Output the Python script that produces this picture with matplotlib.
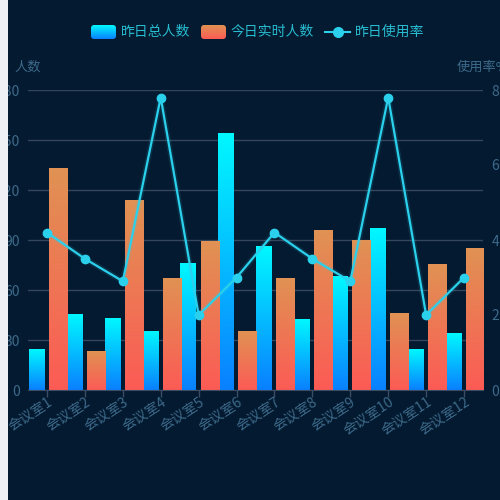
import numpy as np
import matplotlib.pyplot as plt
from matplotlib.patches import Rectangle, FancyBboxPatch
from matplotlib.lines import Line2D
from matplotlib.colors import LinearSegmentedColormap

plt.rcParams['font.family'] = ['Noto Sans CJK SC', 'DejaVu Sans']

rooms = ["会议室1", "会议室2", "会议室3", "会议室4", "会议室5", "会议室6",
         "会议室7", "会议室8", "会议室9", "会议室10", "会议室11", "会议室12"]
yesterday_total = [24, 45, 43, 35, 76, 154, 86, 42, 68, 97, 24, 34]
today_live = [133, 23, 114, 67, 89, 35, 67, 96, 90, 46, 75, 85]
usage_rate = [4.2, 3.5, 2.9, 7.8, 2.0, 3.0, 4.2, 3.5, 2.9, 7.8, 2.0, 3.0]

left_ticks = [0, 30, 60, 90, 120, 150, 180]
right_ticks = [0, 2, 4, 6, 8]

BG = '#041a30'
AXIS_TXT = '#3d6a8a'
GRID = '#34465c'
LEGEND_TXT = '#27bcd0'
LINE_C = '#2ad0ec'

blue_cmap = LinearSegmentedColormap.from_list('b', ['#0a80ff', '#00f8ff'])
orange_cmap = LinearSegmentedColormap.from_list('o', ['#fc5b55', '#e09253'])


def gradient_bars(ax, xs, heights, width, cmap):
    bars = ax.bar(xs, heights, width=width, color='none', edgecolor='none', zorder=2)
    grad = np.linspace(0, 1, 256).reshape(-1, 1)
    for b in bars:
        x0, w, h = b.get_x(), b.get_width(), b.get_height()
        ax.imshow(grad, extent=(x0, x0 + w, 0, h), origin='lower',
                  aspect='auto', cmap=cmap, zorder=2)


fig = plt.figure(figsize=(5, 5), dpi=100, facecolor=BG)
ax = fig.add_axes([28 / 500, 1 - 390 / 500, 455 / 500, 300 / 500])
ax.set_facecolor(BG)

x = np.arange(len(rooms))
gradient_bars(ax, x - 0.28, yesterday_total, 0.40, blue_cmap)
gradient_bars(ax, x + 0.29, today_live, 0.48, orange_cmap)

ax.set_xlim(-0.5, 11.5)
ax.set_ylim(0, 180)
ax.set_yticks(left_ticks)
ax.set_xticks(x)
ax.set_xticklabels(rooms, rotation=33, ha='right', va='top',
                   rotation_mode='anchor', fontsize=10, color=AXIS_TXT)
ax.tick_params(axis='y', length=0, pad=6, labelsize=10, labelcolor=AXIS_TXT)
ax.tick_params(axis='x', length=5, width=1, color='#3b4d63', pad=-1.5)
ax.yaxis.grid(True, color=GRID, lw=1)
ax.set_axisbelow(True)
for s in ['top', 'left', 'right']:
    ax.spines[s].set_visible(False)
ax.spines['bottom'].set_color('#3b4d63')

ax2 = ax.twinx()
ax2.plot(x, usage_rate, color=LINE_C, lw=4, alpha=0.12, zorder=3)
ax2.plot(x, usage_rate, color=LINE_C, lw=1.6, marker='o', markersize=6,
         markerfacecolor=LINE_C, markeredgecolor=LINE_C, zorder=4)
ax2.set_ylim(0, 8)
ax2.set_yticks(right_ticks)
ax2.tick_params(axis='y', length=0, pad=6, labelsize=10, labelcolor=AXIS_TXT)
for s in ['top', 'left', 'right', 'bottom']:
    ax2.spines[s].set_visible(False)

# axis names
fig.text(28 / 500, 1 - 67 / 500, "人数", ha='center', va='center',
         fontsize=9.5, color=AXIS_TXT)
fig.text(483 / 500, 1 - 67 / 500, "使用率%", ha='center', va='center',
         fontsize=9.5, color=AXIS_TXT)

# overlay for legend and the light strip on the left
ov = fig.add_axes([0, 0, 1, 1], facecolor='none')
ov.axis('off')

grad_h = np.linspace(0, 1, 64).reshape(-1, 1)
for x0, cmap in [(91, blue_cmap), (201, orange_cmap)]:
    box = FancyBboxPatch((x0, 25), 25, 14, boxstyle='round,pad=0,rounding_size=3',
                         facecolor='none', edgecolor='none')
    ov.add_patch(box)
    im = ov.imshow(grad_h, extent=(x0, x0 + 25, 39, 25), origin='lower',
                   aspect='auto', cmap=cmap)
    im.set_clip_path(box)
ov.add_line(Line2D([325, 350], [32, 32], color=LINE_C, lw=1.5))
ov.plot([337.5], [32], marker='o', markersize=7, color=LINE_C)
ov.set_xlim(0, 500)
ov.set_ylim(500, 0)

for tx, label in [(121, "昨日总人数"), (231, "今日实时人数"), (355, "昨日使用率")]:
    ov.text(tx, 32, label, ha='left', va='center', fontsize=10, color=LEGEND_TXT)

ov.add_patch(Rectangle((0, 0), 8, 500, facecolor='#eef0f5', edgecolor='none', zorder=10))

fig.savefig('out.png', dpi=100, facecolor=BG)
